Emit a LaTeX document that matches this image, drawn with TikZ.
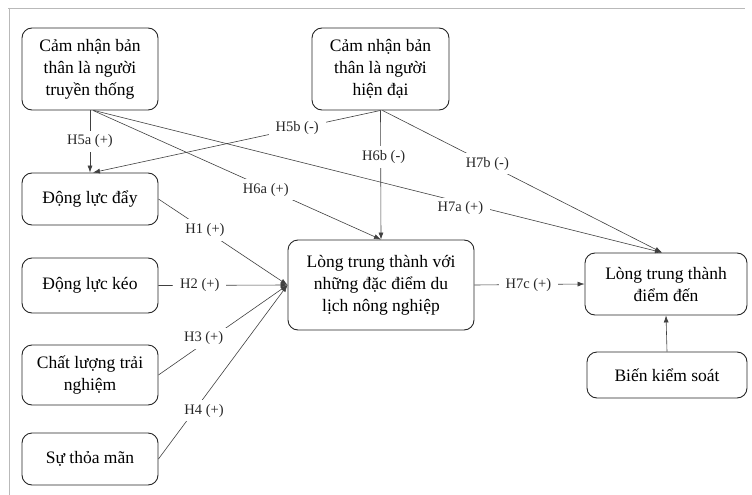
\documentclass[tikz,border=0pt]{standalone}
\usepackage{fontspec}
\setmainfont{Liberation Serif}
\usetikzlibrary{arrows.meta}
\begin{document}
\begin{tikzpicture}[x=1pt,y=-1pt,
  box/.style={draw=black!85,line width=0.9pt,rounded corners=10pt,align=center,
    font=\fontsize{17.5}{22}\selectfont,inner sep=2pt},
  conn/.style={draw=black!75,line width=0.6pt,-{Latex[length=7pt,width=5pt]}},
  lab/.style={fill=white,font=\fontsize{14.5}{16}\selectfont,inner xsep=7pt,inner ysep=4pt,text=black!85}]
\useasboundingbox (0,0) rectangle (752,495);
\draw[gray!55,line width=0.8pt] (8,8) -- (745,8);
\draw[gray!55,line width=0.8pt] (9,8) -- (9,495);

\node[box,minimum width=136pt,minimum height=82pt] (A) at (90,69) {Cảm nhận bản\\thân là người\\truyền thống};
\node[box,minimum width=137pt,minimum height=82pt] (B) at (380.5,69) {Cảm nhận bản\\thân là người\\hiện đại};
\node[box,minimum width=136pt,minimum height=52pt] (C) at (90,199) {Động lực đẩy};
\node[box,minimum width=136pt,minimum height=55pt] (D) at (90,285.5) {Động lực kéo};
\node[box,minimum width=136pt,minimum height=60pt] (E) at (90,375) {Chất lượng trải\\nghiệm};
\node[box,minimum width=136pt,minimum height=52pt] (F) at (90,459) {Sự thỏa mãn};
\node[box,minimum width=186pt,minimum height=90pt] (G) at (381,285) {Lòng trung thành với\\những đặc điểm du\\lịch nông nghiệp};
\node[box,minimum width=162pt,minimum height=62pt] (H) at (666,284) {Lòng trung thành\\điểm đến};
\node[box,minimum width=160pt,minimum height=46pt] (I) at (667,375) {Biến kiểm soát};

\path[conn] (A.south) -- node[lab,pos=0.5] {H5a (+)} (C.north);
\path[conn] (B.south) -- node[lab,pos=0.29] {H5b (-)} ([xshift=3pt]C.north);
\path[conn] ([xshift=3pt]A.south) -- node[lab,pos=0.6,yshift=-2pt] {H6a (+)} (G.north);
\path[conn] ([xshift=4pt]A.south) -- node[lab,pos=0.645,yshift=-6pt] {H7a (+)} ([xshift=-4pt]H.north);
\path[conn] (B.south) -- node[lab,pos=0.36,xshift=3pt] {H6b (-)} (G.north);
\path[conn] ([xshift=2pt]B.south) -- node[lab,pos=0.375] {H7b (-)} ([xshift=-4pt]H.north);
\path[conn] (C.east) -- node[lab,pos=0.36] {H1 (+)} (G.west);
\path[conn] (D.east) -- node[lab,pos=0.32] {H2 (+)} (G.west);
\path[conn] (E.east) -- node[lab,pos=0.35,yshift=5pt] {H3 (+)} (G.west);
\path[conn] (F.east) -- node[lab,pos=0.33,yshift=-9pt,xshift=3pt] {H4 (+)} (G.west);
\path[conn] (G.east) -- node[lab,pos=0.49] {H7c (+)} (H.west);
\path[conn] (I.north) -- (H.south);
\end{tikzpicture}
\end{document}
